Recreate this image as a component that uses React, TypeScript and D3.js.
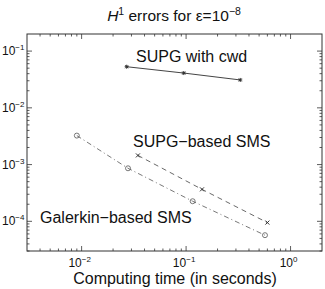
import React from 'react'
import * as d3 from 'd3'

// computing time (s) and H1 errors
const cwdTime = [0.027, 0.095, 0.33]
const cwdErr = [0.053, 0.041, 0.031]
const supgTime = [0.0346, 0.142, 0.6]
const supgErr = [1.45e-3, 3.66e-4, 9.5e-5]
const galTime = [0.009, 0.0278, 0.1156, 0.569]
const galErr = [3.24e-3, 8.6e-4, 2.26e-4, 5.7e-5]
const xTickExp = [-2, -1, 0]
const yTickExp = [-1, -2, -3, -4]

const W = 325
const H = 289
const m = { left: 27, right: 322, top: 34, bottom: 251 }
const font = 'Liberation Sans, Arial, Helvetica, sans-serif'
const ink = '#333'

export default function App() {
  const x = d3.scaleLog().domain([0.003, 2]).range([m.left, m.right])
  const y = d3.scaleLog().domain([3e-5, 0.2]).range([m.bottom, m.top])

  const line = d3.line<[number, number]>()
    .x(d => x(d[0]))
    .y(d => y(d[1]))

  const zip = (a: number[], b: number[]) => a.map((v, i) => [v, b[i]] as [number, number])

  // minor/major ticks
  const xMinor: number[] = []
  for (let e = -3; e <= 0; e++) for (let k = 2; k <= 9; k++) {
    const v = k * Math.pow(10, e)
    if (v > 0.003 && v < 2) xMinor.push(v)
  }
  const yMinor: number[] = []
  for (let e = -5; e <= -1; e++) for (let k = 2; k <= 9; k++) {
    const v = k * Math.pow(10, e)
    if (v > 3e-5 && v < 0.2) yMinor.push(v)
  }

  const ticks: JSX.Element[] = []
  xTickExp.forEach(e => {
    const px = x(Math.pow(10, e))
    ticks.push(<line key={'xb' + e} x1={px} x2={px} y1={m.bottom} y2={m.bottom - 5} />)
    ticks.push(<line key={'xt' + e} x1={px} x2={px} y1={m.top} y2={m.top + 5} />)
  })
  xMinor.forEach((v, i) => {
    const px = x(v)
    ticks.push(<line key={'xmb' + i} x1={px} x2={px} y1={m.bottom} y2={m.bottom - 2.5} />)
    ticks.push(<line key={'xmt' + i} x1={px} x2={px} y1={m.top} y2={m.top + 2.5} />)
  })
  yTickExp.forEach(e => {
    const py = y(Math.pow(10, e))
    ticks.push(<line key={'yl' + e} x1={m.left} x2={m.left + 5} y1={py} y2={py} />)
    ticks.push(<line key={'yr' + e} x1={m.right} x2={m.right - 5} y1={py} y2={py} />)
  })
  yMinor.forEach((v, i) => {
    const py = y(v)
    ticks.push(<line key={'yml' + i} x1={m.left} x2={m.left + 2.5} y1={py} y2={py} />)
    ticks.push(<line key={'ymr' + i} x1={m.right} x2={m.right - 2.5} y1={py} y2={py} />)
  })

  const star = (cx: number, cy: number, k: string) => (
    <g key={k} stroke={ink} strokeWidth={1}>
      <line x1={cx - 2} x2={cx + 2} y1={cy} y2={cy} />
      <line x1={cx} x2={cx} y1={cy - 2} y2={cy + 2} />
      <line x1={cx - 1.5} x2={cx + 1.5} y1={cy - 1.5} y2={cy + 1.5} />
      <line x1={cx - 1.5} x2={cx + 1.5} y1={cy + 1.5} y2={cy - 1.5} />
    </g>
  )
  const cross = (cx: number, cy: number, k: string) => (
    <g key={k} stroke={ink} strokeWidth={1}>
      <line x1={cx - 2} x2={cx + 2} y1={cy - 2} y2={cy + 2} />
      <line x1={cx - 2} x2={cx + 2} y1={cy + 2} y2={cy - 2} />
    </g>
  )

  return (
    <svg width={W} height={H} style={{ position: 'absolute', left: 0, top: 0, background: '#fff' }}
      fontFamily={font}>
      <rect x={0} y={0} width={W} height={H} fill="#fff" />
      {/* title */}
      <text x={174} y={21} textAnchor="middle" fontSize={15.5} fill="#111">
        <tspan fontStyle="italic">H</tspan>
        <tspan dy={-6} fontSize={10.5}>1</tspan>
        <tspan dy={6}> errors for ε=10</tspan>
        <tspan dy={-6} fontSize={10.5}>−8</tspan>
      </text>

      {/* frame and ticks */}
      <g stroke={ink} strokeWidth={0.8} fill="none">
        {ticks}
      </g>
      <rect x={m.left} y={m.top} width={m.right - m.left} height={m.bottom - m.top}
        fill="none" stroke={ink} strokeWidth={1} />

      {/* tick labels */}
      {xTickExp.map(e => (
        <text key={'xl' + e} x={x(Math.pow(10, e)) - 2} y={267} textAnchor="middle" fontSize={12} fill="#111">
          10<tspan dy={-5} fontSize={8}>{e < 0 ? '−' + (-e) : e}</tspan>
        </text>
      ))}
      {yTickExp.map(e => (
        <text key={'yl' + e} x={2} y={y(Math.pow(10, e)) + 4} fontSize={12} fill="#111">
          10<tspan dy={-5} fontSize={8}>{'−' + (-e)}</tspan>
        </text>
      ))}

      {/* series */}
      <path d={line(zip(cwdTime, cwdErr)) || ''} fill="none" stroke="#444" strokeWidth={1} />
      <path d={line(zip(supgTime, supgErr)) || ''} fill="none" stroke="#444" strokeWidth={0.8}
        strokeDasharray="5,4" />
      <path d={line(zip(galTime, galErr)) || ''} fill="none" stroke="#555" strokeWidth={0.8}
        strokeDasharray="5,3,1,3" />
      {cwdTime.map((t, i) => star(x(t), y(cwdErr[i]), 's' + i))}
      {supgTime.map((t, i) => cross(x(t), y(supgErr[i]), 'c' + i))}
      {galTime.map((t, i) => (
        <circle key={'o' + i} cx={x(t)} cy={y(galErr[i])} r={2.5} fill="none" stroke="#555" strokeWidth={0.8} />
      ))}

      {/* labels */}
      <text x={136} y={62} fontSize={16} fill="#111">SUPG with cwd</text>
      <text x={133} y={147} fontSize={16} fill="#111">SUPG−based SMS</text>
      <text x={40} y={223} fontSize={16} fill="#111">Galerkin−based SMS</text>
      <text x={175} y={284} textAnchor="middle" fontSize={16} fill="#111">Computing time (in seconds)</text>
    </svg>
  )
}
